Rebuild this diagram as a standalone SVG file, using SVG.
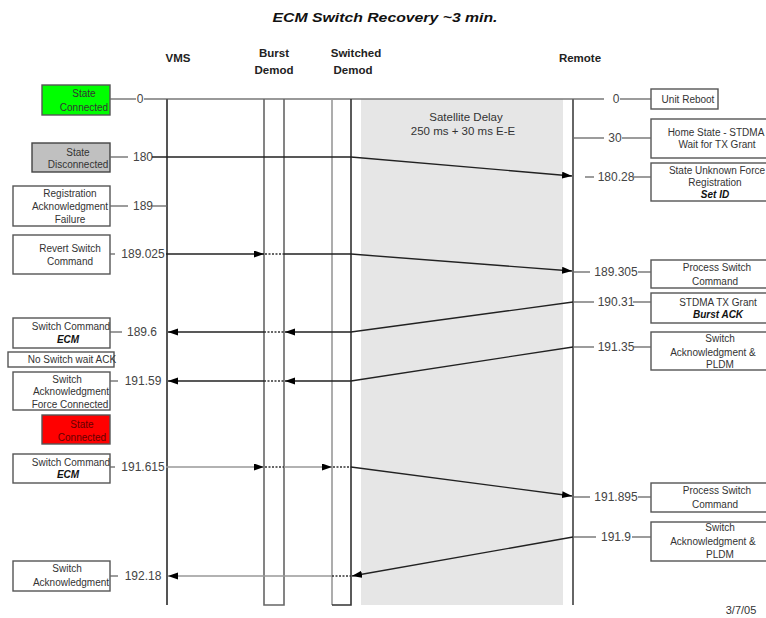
<svg xmlns="http://www.w3.org/2000/svg" width="766" height="618" viewBox="0 0 766 618">
  <style>
    text { font-family: "Liberation Sans", Arial, sans-serif; fill: #333; }
    .title { font-size: 13px; font-weight: bold; font-style: italic; fill: #111; }
    .head { font-size: 11.5px; font-weight: bold; text-anchor: middle; fill: #222; }
    .box { fill: #fff; stroke: #555; stroke-width: 1.4; }
    .bt { font-size: 10px; text-anchor: middle; }
    .bi { font-size: 10px; text-anchor: middle; font-weight: bold; font-style: italic; fill: #111; }
    .lbl { font-size: 12px; text-anchor: middle; fill: #444; }
    .tick { stroke: #666; stroke-width: 1.3; fill: none; }
    .life { stroke: #555; stroke-width: 2; fill: none; }
    .msg { stroke: #222; stroke-width: 1.3; fill: none; }
    .msgl { stroke: #999; stroke-width: 1.3; fill: none; }
    .dot { stroke: #333; stroke-width: 1.3; stroke-dasharray: 2 1.5; fill: none; }
  </style>
  <defs>
    <marker id="ah" markerUnits="userSpaceOnUse" markerWidth="11" markerHeight="8" refX="10" refY="3.5" orient="auto">
      <path d="M0,0 L10,3.5 L0,7 z" fill="#000"/>
    </marker>
  </defs>

  <rect width="766" height="618" fill="#fff"/>

  <text class="title" x="385" y="22" text-anchor="middle" textLength="225" lengthAdjust="spacingAndGlyphs">ECM Switch Recovery ~3 min.</text>

  <!-- column headings -->
  <g id="headings">
    <text class="head" x="178" y="62">VMS</text>
    <text class="head" x="274" y="57">Burst</text>
    <text class="head" x="274" y="74">Demod</text>
    <text class="head" x="356" y="57">Switched</text>
    <text class="head" x="353" y="74">Demod</text>
    <text class="head" x="580" y="62">Remote</text>
  </g>

  <!-- satellite delay band -->
  <g id="satellite">
    <rect x="361" y="99" width="202" height="506" fill="#e6e6e6"/>
    <text x="466" y="121" font-size="11.5" text-anchor="middle" fill="#444">Satellite Delay</text>
    <text x="463" y="135" font-size="11.5" text-anchor="middle" fill="#444">250 ms + 30 ms E-E</text>
  </g>

  <!-- lifelines -->
  <g id="lifelines">
    <line x1="144" y1="99" x2="604" y2="99" stroke="#777" stroke-width="1.5"/>
    <line class="life" x1="167" y1="99" x2="167" y2="605"/>
    <path d="M264,99 V605 H284 V99" stroke="#666" stroke-width="1.6" fill="none"/>
    <line x1="332" y1="99" x2="332" y2="605" stroke="#999" stroke-width="1.6"/>
    <path d="M332,605 H351 V99" stroke="#333" stroke-width="1.6" fill="none"/>
    <line x1="573" y1="99" x2="573" y2="605" stroke="#666" stroke-width="2"/>
  </g>

  <!-- VMS side states -->
  <g id="vms-state-connected">
    <rect x="42" y="85" width="68" height="30" fill="#00ff00" stroke="#555" stroke-width="1.4"/>
    <text class="bt" x="84" y="97">State</text>
    <text class="bt" x="84" y="111">Connected</text>
  </g>
  <g id="vms-state-disconnected">
    <rect x="32" y="143" width="78" height="29" fill="#c0c0c0" stroke="#444" stroke-width="1.4"/>
    <text class="bt" x="78" y="156">State</text>
    <text class="bt" x="78" y="168">Disconnected</text>
  </g>
  <g id="vms-reg-ack-failure">
    <rect class="box" x="13" y="186" width="97" height="40"/>
    <text class="bt" x="70" y="197">Registration</text>
    <text class="bt" x="70" y="210">Acknowledgment</text>
    <text class="bt" x="70" y="223">Failure</text>
  </g>
  <g id="vms-revert-switch">
    <rect class="box" x="13" y="235" width="97" height="39"/>
    <text class="bt" x="70" y="252">Revert Switch</text>
    <text class="bt" x="70" y="265">Command</text>
  </g>
  <g id="vms-switch-command-1">
    <rect class="box" x="13" y="318" width="97" height="30"/>
    <text class="bt" x="71" y="330">Switch Command</text>
    <text class="bi" x="68" y="343">ECM</text>
  </g>
  <g id="vms-no-switch">
    <rect class="box" x="8" y="352" width="106" height="15"/>
    <text class="bt" x="72" y="363">No Switch wait ACK</text>
  </g>
  <g id="vms-switch-ack-force">
    <rect class="box" x="13" y="372" width="97" height="38"/>
    <text class="bt" x="67" y="383">Switch</text>
    <text class="bt" x="71" y="395">Acknowledgment</text>
    <text class="bt" x="70" y="408">Force Connected</text>
  </g>
  <g id="vms-state-connected-red">
    <rect x="42" y="415" width="68" height="29" fill="#ff0000" stroke="#555" stroke-width="1.4"/>
    <text class="bt" x="82" y="428" style="fill:#600">State</text>
    <text class="bt" x="82" y="441" style="fill:#600">Connected</text>
  </g>
  <g id="vms-switch-command-2">
    <rect class="box" x="13" y="454" width="97" height="29"/>
    <text class="bt" x="71" y="466">Switch Command</text>
    <text class="bi" x="68" y="478">ECM</text>
  </g>
  <g id="vms-switch-ack">
    <rect class="box" x="13" y="561" width="97" height="30"/>
    <text class="bt" x="67" y="572">Switch</text>
    <text class="bt" x="71" y="586">Acknowledgment</text>
  </g>

  <!-- Remote side states -->
  <g id="rem-unit-reboot">
    <rect class="box" x="651" y="89" width="67" height="20"/>
    <text class="bt" x="688" y="103">Unit Reboot</text>
  </g>
  <g id="rem-home-state">
    <rect class="box" x="651" y="119" width="120" height="39"/>
    <text class="bt" x="716" y="136">Home State - STDMA</text>
    <text class="bt" x="717" y="148">Wait for TX Grant</text>
  </g>
  <g id="rem-state-unknown">
    <rect class="box" x="651" y="163" width="120" height="38"/>
    <text class="bt" x="717" y="174">State Unknown Force</text>
    <text class="bt" x="715" y="186">Registration</text>
    <text class="bi" x="715" y="198">Set ID</text>
  </g>
  <g id="rem-process-switch-1">
    <rect class="box" x="651" y="260" width="120" height="28"/>
    <text class="bt" x="717" y="271">Process Switch</text>
    <text class="bt" x="715" y="285">Command</text>
  </g>
  <g id="rem-stdma-grant">
    <rect class="box" x="651" y="293" width="120" height="30"/>
    <text class="bt" x="718" y="306">STDMA TX Grant</text>
    <text class="bi" x="718" y="318">Burst ACK</text>
  </g>
  <g id="rem-switch-ack-1">
    <rect class="box" x="651" y="332" width="120" height="38"/>
    <text class="bt" x="720" y="342">Switch</text>
    <text class="bt" x="713" y="356">Acknowledgment &amp;</text>
    <text class="bt" x="720" y="368">PLDM</text>
  </g>
  <g id="rem-process-switch-2">
    <rect class="box" x="651" y="483" width="120" height="29"/>
    <text class="bt" x="717" y="494">Process Switch</text>
    <text class="bt" x="715" y="508">Command</text>
  </g>
  <g id="rem-switch-ack-2">
    <rect class="box" x="651" y="522" width="120" height="39"/>
    <text class="bt" x="720" y="531">Switch</text>
    <text class="bt" x="713" y="545">Acknowledgment &amp;</text>
    <text class="bt" x="720" y="558">PLDM</text>
  </g>

  <!-- time stamps and their leader lines -->
  <g id="timestamps">
    <line class="tick" x1="110" y1="99" x2="136" y2="99"/>
    <text class="lbl" x="140" y="103">0</text>
    <line class="tick" x1="110" y1="157" x2="128" y2="157"/>
    <text class="lbl" x="143" y="161">180</text>
    <line class="tick" x1="110" y1="206" x2="128" y2="206"/>
    <text class="lbl" x="143" y="210">189</text>
    <line class="tick" x1="152" y1="206" x2="167" y2="206"/>
    <line class="tick" x1="110" y1="254" x2="115" y2="254"/>
    <text class="lbl" x="143" y="258">189.025</text>
    <line class="tick" x1="110" y1="332" x2="122" y2="332"/>
    <text class="lbl" x="142" y="336">189.6</text>
    <line class="tick" x1="110" y1="381" x2="118" y2="381"/>
    <text class="lbl" x="143" y="385">191.59</text>
    <line class="tick" x1="110" y1="467" x2="115" y2="467"/>
    <text class="lbl" x="143" y="471">191.615</text>
    <line class="tick" x1="110" y1="576" x2="118" y2="576"/>
    <text class="lbl" x="143" y="580">192.18</text>

    <text class="lbl" x="616" y="103">0</text>
    <line class="tick" x1="620" y1="99" x2="651" y2="99"/>
    <line class="tick" x1="573" y1="138" x2="604" y2="138"/>
    <text class="lbl" x="615" y="142">30</text>
    <line class="tick" x1="622" y1="138" x2="651" y2="138"/>
    <line class="tick" x1="585" y1="177" x2="594" y2="177"/>
    <text class="lbl" x="616" y="181">180.28</text>
    <line class="tick" x1="633" y1="177" x2="651" y2="177"/>
    <line class="tick" x1="573" y1="272" x2="590" y2="272"/>
    <text class="lbl" x="616" y="276">189.305</text>
    <line class="tick" x1="638" y1="272" x2="651" y2="272"/>
    <line class="tick" x1="573" y1="302" x2="594" y2="302"/>
    <text class="lbl" x="616" y="306">190.31</text>
    <line class="tick" x1="633" y1="302" x2="651" y2="302"/>
    <line class="tick" x1="573" y1="347" x2="594" y2="347"/>
    <text class="lbl" x="616" y="351">191.35</text>
    <line class="tick" x1="633" y1="347" x2="651" y2="347"/>
    <line class="tick" x1="573" y1="497" x2="590" y2="497"/>
    <text class="lbl" x="616" y="501">191.895</text>
    <line class="tick" x1="638" y1="497" x2="651" y2="497"/>
    <line class="tick" x1="573" y1="537" x2="596" y2="537"/>
    <text class="lbl" x="616" y="541">191.9</text>
    <line class="tick" x1="632" y1="537" x2="651" y2="537"/>
  </g>

  <!-- message connectors -->
  <g id="connectors">
    <!-- 180 : disconnect to remote -->
    <polyline class="msg" points="152,157 351,157 572,176" marker-end="url(#ah)"/>

    <!-- 189.025 : revert switch command -->
    <line class="msg" x1="166" y1="254" x2="264" y2="254" marker-end="url(#ah)"/>
    <line class="dot" x1="265" y1="254" x2="284" y2="254"/>
    <polyline class="msg" points="284,254 351,254 572,271" marker-end="url(#ah)"/>

    <!-- 190.31 -> 189.6 : burst ACK back to VMS -->
    <polyline class="msg" points="573,302 351,332 285,332" marker-end="url(#ah)"/>
    <line class="dot" x1="264" y1="332" x2="284" y2="332"/>
    <line class="msg" x1="264" y1="332" x2="168" y2="332" marker-end="url(#ah)"/>

    <!-- 191.35 -> 191.59 : switch acknowledgment back to VMS -->
    <polyline class="msg" points="573,347 351,381 285,381" marker-end="url(#ah)"/>
    <line class="dot" x1="264" y1="381" x2="284" y2="381"/>
    <line class="msg" x1="264" y1="381" x2="168" y2="381" marker-end="url(#ah)"/>

    <!-- 191.615 : switch command via both demods -->
    <line class="msgl" x1="166" y1="467" x2="264" y2="467" marker-end="url(#ah)"/>
    <line class="dot" x1="265" y1="467" x2="284" y2="467"/>
    <line class="msgl" x1="284" y1="467" x2="332" y2="467" marker-end="url(#ah)"/>
    <line class="dot" x1="333" y1="467" x2="351" y2="467"/>
    <line class="msg" x1="351" y1="467" x2="572" y2="496" marker-end="url(#ah)"/>

    <!-- 191.9 -> 192.18 : switch acknowledgment through switched demod -->
    <line class="msg" x1="573" y1="537" x2="352" y2="576" marker-end="url(#ah)"/>
    <line class="dot" x1="332" y1="576" x2="351" y2="576"/>
    <line class="msgl" x1="332" y1="576" x2="168" y2="576" marker-end="url(#ah)"/>
  </g>

  <text x="741" y="614" font-size="11" text-anchor="middle" fill="#444">3/7/05</text>
</svg>
